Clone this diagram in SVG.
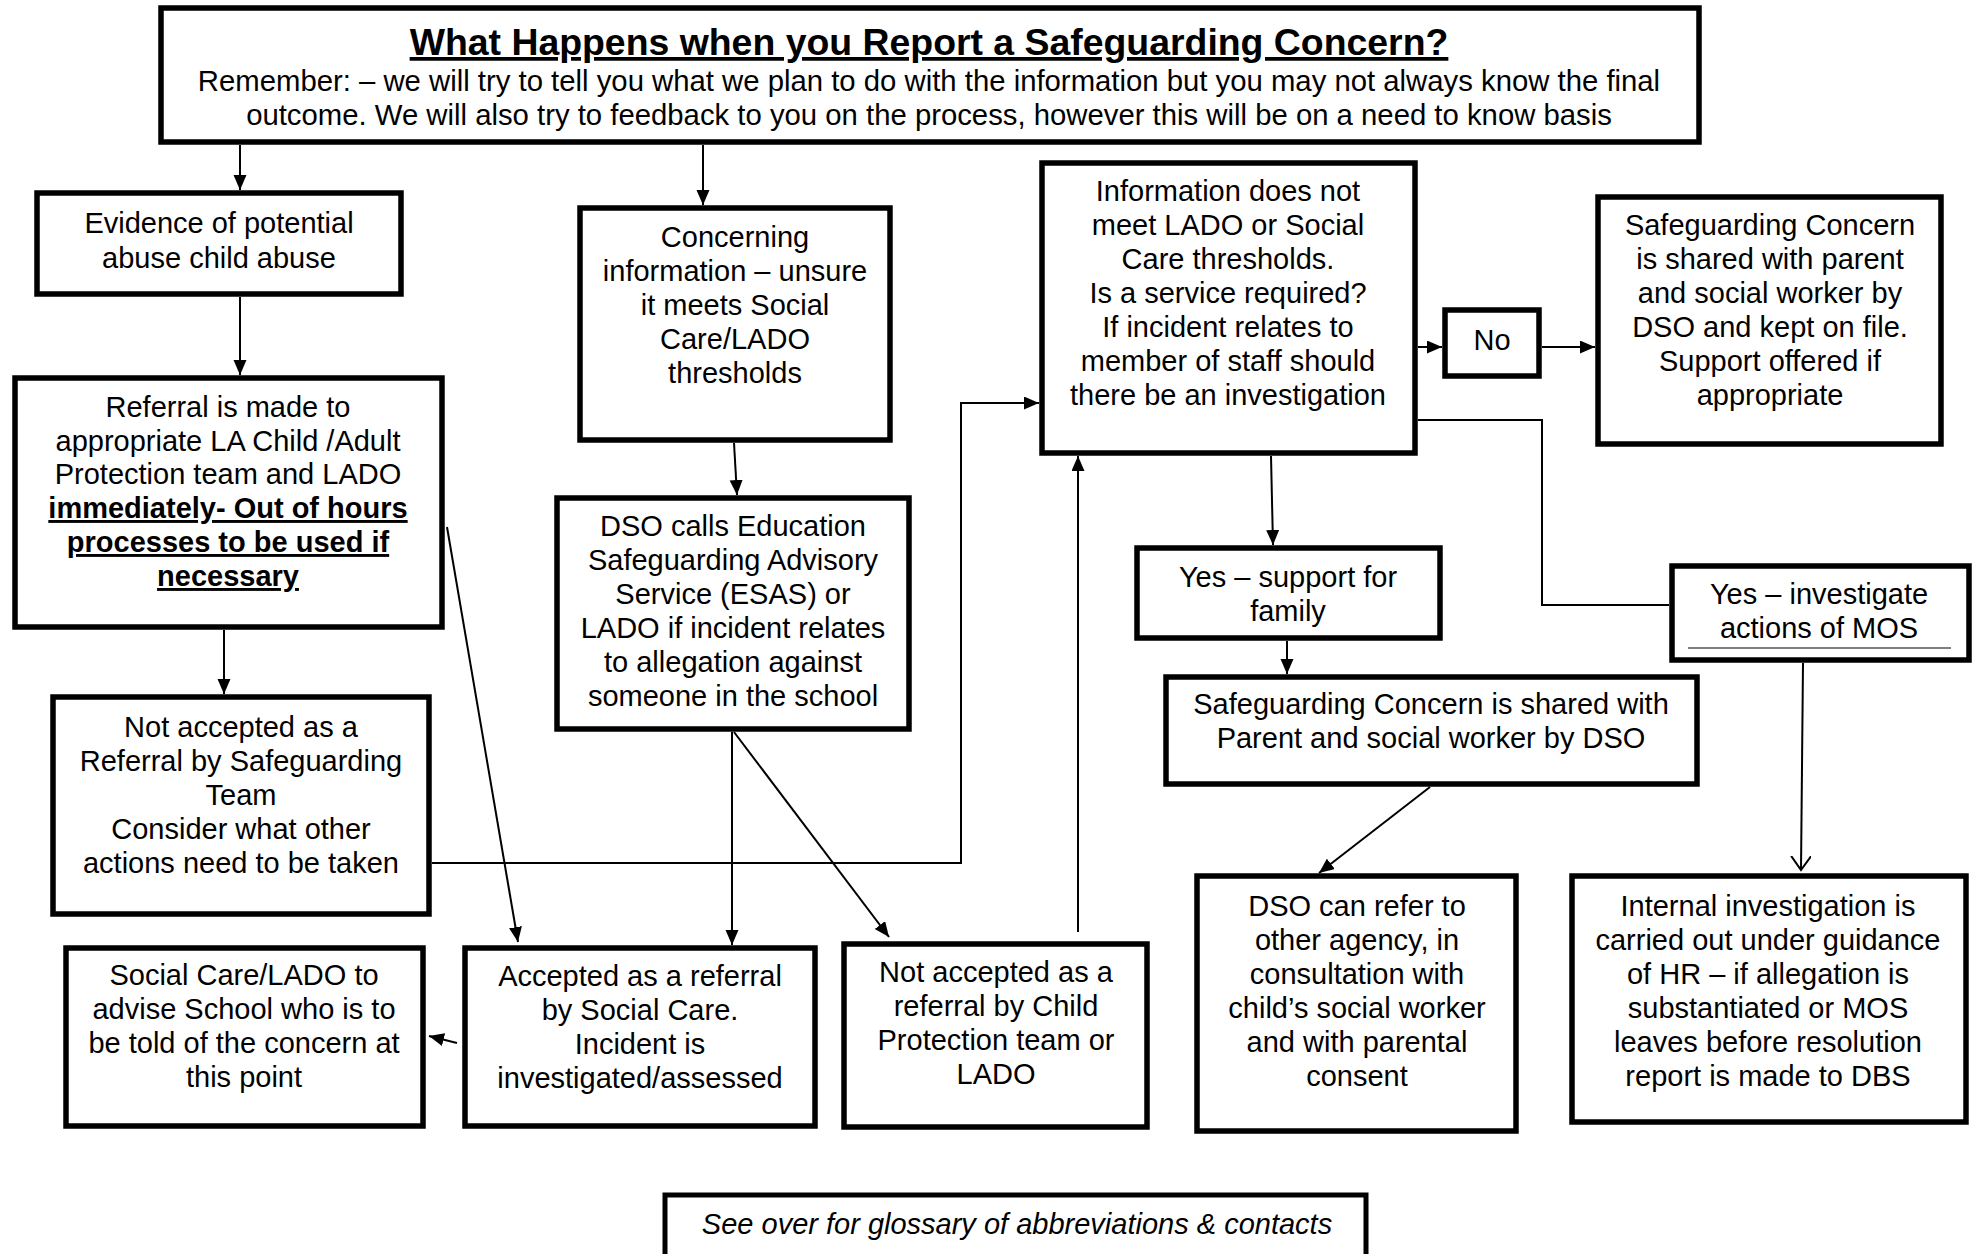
<svg xmlns="http://www.w3.org/2000/svg" width="1975" height="1254" viewBox="0 0 1975 1254">
<style>
.box{fill:#fff;stroke:#000;stroke-width:5.5}
.t{font-family:"Liberation Sans",Arial,sans-serif;font-size:29px;fill:#000;text-anchor:middle}
.b{font-weight:bold;text-decoration:underline}
.i{font-style:italic}
.c{fill:none;stroke:#000;stroke-width:2}
</style>
<defs>
<marker id="ah" markerUnits="userSpaceOnUse" markerWidth="16" markerHeight="14" refX="15" refY="6.5" orient="auto"><path d="M0,0 L15,6.5 L0,13 z" fill="#000"/></marker>
<marker id="av" markerUnits="userSpaceOnUse" markerWidth="16" markerHeight="22" refX="14" refY="10" orient="auto"><path d="M0,0 L14,10 L0,20" fill="none" stroke="#000" stroke-width="2"/></marker>
</defs>
<rect width="1975" height="1254" fill="#fff"/>
<g id="connectors">
<line class="c" x1="240" y1="145" x2="240" y2="190" marker-end="url(#ah)"/>
<line class="c" x1="240" y1="297" x2="240" y2="375" marker-end="url(#ah)"/>
<line class="c" x1="703" y1="145" x2="703" y2="205" marker-end="url(#ah)"/>
<line class="c" x1="734" y1="443" x2="737" y2="495" marker-end="url(#ah)"/>
<line class="c" x1="224" y1="630" x2="224" y2="694" marker-end="url(#ah)"/>
<line class="c" x1="447" y1="527" x2="518" y2="942" marker-end="url(#ah)"/>
<polyline class="c" points="432,863 961,863 961,403 1039,403" marker-end="url(#ah)"/>
<line class="c" x1="732" y1="732" x2="732" y2="945" marker-end="url(#ah)"/>
<line class="c" x1="734" y1="732" x2="889" y2="937" marker-end="url(#ah)"/>
<line class="c" x1="1078" y1="932" x2="1078" y2="456" marker-end="url(#ah)"/>
<line class="c" x1="1418" y1="347" x2="1442" y2="347" marker-end="url(#ah)"/>
<line class="c" x1="1542" y1="347" x2="1595" y2="347" marker-end="url(#ah)"/>
<line class="c" x1="1271" y1="456" x2="1273" y2="545" marker-end="url(#ah)"/>
<polyline class="c" points="1418,420 1542,420 1542,605 1669,605"/>
<line class="c" x1="1287" y1="641" x2="1287" y2="674" marker-end="url(#ah)"/>
<line class="c" x1="1430" y1="787" x2="1319" y2="873" marker-end="url(#ah)"/>
<line class="c" x1="1803" y1="663" x2="1801" y2="870" marker-end="url(#av)"/>
<line class="c" x1="457" y1="1043" x2="429" y2="1036" marker-end="url(#ah)"/>
</g>
<g id="title">
<rect class="box" x="161" y="8" width="1538" height="134"/>
<text class="t b" x="929" y="55" style="font-size:37.4px">What Happens when you Report a Safeguarding Concern?</text>
<text class="t" x="929" y="91" style="font-size:29.3px">Remember: – we will try to tell you what we plan to do with the information but you may not always know the final</text>
<text class="t" x="929" y="125" style="font-size:29.3px">outcome. We will also try to feedback to you on the process, however this will be on a need to know basis</text>
</g>
<g id="evidence">
<rect class="box" x="37" y="193" width="364" height="101"/>
<text class="t" x="219" y="233">Evidence of potential</text>
<text class="t" x="219" y="268">abuse child abuse</text>
</g>
<g id="referral">
<rect class="box" x="15" y="378" width="427" height="249"/>
<text class="t" x="228" y="417">Referral is made to</text>
<text class="t" x="228" y="451">appropriate LA Child /Adult</text>
<text class="t" x="228" y="484">Protection team and LADO</text>
<text class="t b" x="228" y="518">immediately- Out of hours</text>
<text class="t b" x="228" y="552">processes to be used if</text>
<text class="t b" x="228" y="586">necessary</text>
</g>
<g id="concerning">
<rect class="box" x="580" y="208" width="310" height="232"/>
<text class="t" x="735" y="247">Concerning</text>
<text class="t" x="735" y="281">information – unsure</text>
<text class="t" x="735" y="315">it meets Social</text>
<text class="t" x="735" y="349">Care/LADO</text>
<text class="t" x="735" y="383">thresholds</text>
</g>
<g id="dso-calls">
<rect class="box" x="557" y="498" width="352" height="231"/>
<text class="t" x="733" y="536">DSO calls Education</text>
<text class="t" x="733" y="570">Safeguarding Advisory</text>
<text class="t" x="733" y="604">Service (ESAS) or</text>
<text class="t" x="733" y="638">LADO if incident relates</text>
<text class="t" x="733" y="672">to allegation against</text>
<text class="t" x="733" y="706">someone in the school</text>
</g>
<g id="info-not-meet">
<rect class="box" x="1042" y="163" width="373" height="290"/>
<text class="t" x="1228" y="201">Information does not</text>
<text class="t" x="1228" y="235">meet LADO or Social</text>
<text class="t" x="1228" y="269">Care thresholds.</text>
<text class="t" x="1228" y="303">Is a service required?</text>
<text class="t" x="1228" y="337">If incident relates to</text>
<text class="t" x="1228" y="371">member of staff should</text>
<text class="t" x="1228" y="405">there be an investigation</text>
</g>
<g id="no">
<rect class="box" x="1445" y="310" width="94" height="66"/>
<text class="t" x="1492" y="350">No</text>
</g>
<g id="shared-kept-on-file">
<rect class="box" x="1598" y="197" width="343" height="247"/>
<text class="t" x="1770" y="235">Safeguarding Concern</text>
<text class="t" x="1770" y="269">is shared with parent</text>
<text class="t" x="1770" y="303">and social worker by</text>
<text class="t" x="1770" y="337">DSO and kept on file.</text>
<text class="t" x="1770" y="371">Support offered if</text>
<text class="t" x="1770" y="405">appropriate</text>
</g>
<g id="yes-support">
<rect class="box" x="1137" y="548" width="303" height="90"/>
<text class="t" x="1288" y="587">Yes – support for</text>
<text class="t" x="1288" y="621">family</text>
</g>
<g id="yes-investigate">
<rect class="box" x="1672" y="566" width="297" height="94"/>
<text class="t" x="1819" y="604">Yes – investigate</text>
<text class="t" x="1819" y="638">actions of MOS</text>
<line x1="1688" y1="648" x2="1951" y2="648" stroke="#000" stroke-width="1.2"/>
</g>
<g id="shared-parent">
<rect class="box" x="1166" y="677" width="531" height="107"/>
<text class="t" x="1431" y="714">Safeguarding Concern is shared with</text>
<text class="t" x="1431" y="748">Parent and social worker by DSO</text>
</g>
<g id="dso-refer">
<rect class="box" x="1197" y="876" width="319" height="255"/>
<text class="t" x="1357" y="916">DSO can refer to</text>
<text class="t" x="1357" y="950">other agency, in</text>
<text class="t" x="1357" y="984">consultation with</text>
<text class="t" x="1357" y="1018">child’s social worker</text>
<text class="t" x="1357" y="1052">and with parental</text>
<text class="t" x="1357" y="1086">consent</text>
</g>
<g id="internal">
<rect class="box" x="1572" y="876" width="394" height="246"/>
<text class="t" x="1768" y="916">Internal investigation is</text>
<text class="t" x="1768" y="950">carried out under guidance</text>
<text class="t" x="1768" y="984">of HR – if allegation is</text>
<text class="t" x="1768" y="1018">substantiated or MOS</text>
<text class="t" x="1768" y="1052">leaves before resolution</text>
<text class="t" x="1768" y="1086">report is made to DBS</text>
</g>
<g id="not-accepted-sg">
<rect class="box" x="53" y="697" width="376" height="217"/>
<text class="t" x="241" y="737">Not accepted as a</text>
<text class="t" x="241" y="771">Referral by Safeguarding</text>
<text class="t" x="241" y="805">Team</text>
<text class="t" x="241" y="839">Consider what other</text>
<text class="t" x="241" y="873">actions need to be taken</text>
</g>
<g id="social-care-lado">
<rect class="box" x="66" y="948" width="357" height="178"/>
<text class="t" x="244" y="985">Social Care/LADO to</text>
<text class="t" x="244" y="1019">advise School who is to</text>
<text class="t" x="244" y="1053">be told of the concern at</text>
<text class="t" x="244" y="1087">this point</text>
</g>
<g id="accepted">
<rect class="box" x="465" y="948" width="350" height="178"/>
<text class="t" x="640" y="986">Accepted as a referral</text>
<text class="t" x="640" y="1020">by Social Care.</text>
<text class="t" x="640" y="1054">Incident is</text>
<text class="t" x="640" y="1088">investigated/assessed</text>
</g>
<g id="not-accepted-cp">
<rect class="box" x="844" y="944" width="303" height="183"/>
<text class="t" x="996" y="982">Not accepted as a</text>
<text class="t" x="996" y="1016">referral by Child</text>
<text class="t" x="996" y="1050">Protection team or</text>
<text class="t" x="996" y="1084">LADO</text>
</g>
<g id="see-over">
<rect class="box" x="665" y="1195" width="701" height="80" style="stroke-width:5"/>
<text class="t i" x="1017" y="1234">See over for glossary of abbreviations &amp; contacts</text>
</g>
</svg>
